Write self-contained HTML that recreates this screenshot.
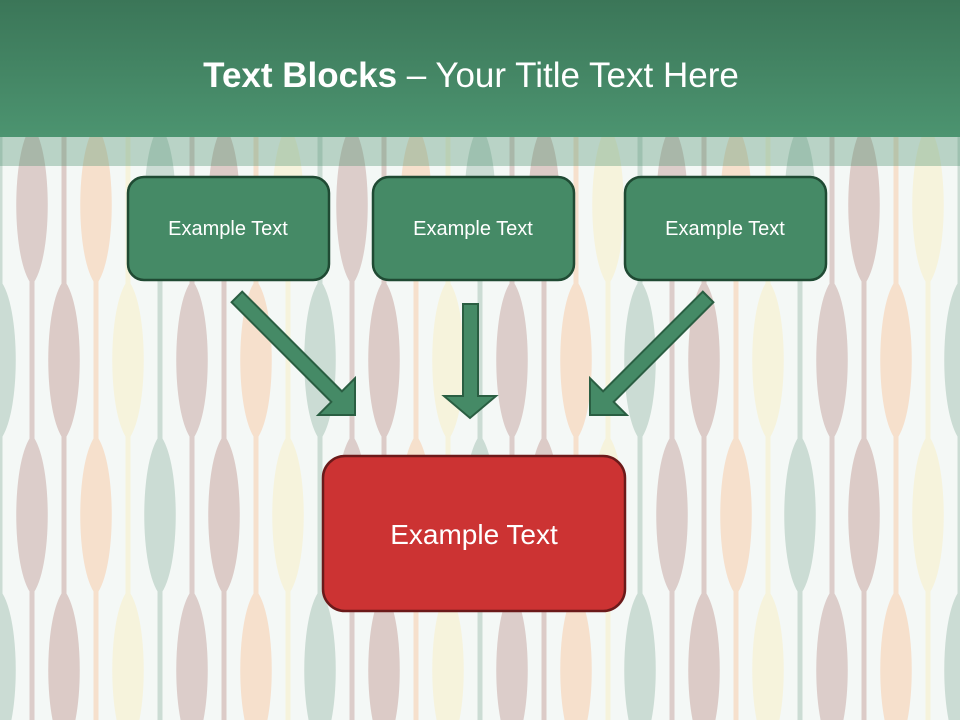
<!DOCTYPE html>
<html><head><meta charset="utf-8"><style>
html,body{margin:0;padding:0;width:960px;height:720px;overflow:hidden;}
body{position:relative;background:#f4f8f6;font-family:"Liberation Sans",sans-serif;}
svg{position:absolute;left:0;top:0;display:block;}
</style></head><body>
<svg id="bg" width="960" height="720"></svg>
<svg width="960" height="720" id="fg">
<defs><linearGradient id="hg" x1="0" y1="0" x2="0" y2="1"><stop offset="0" stop-color="#3b7658"/><stop offset="1" stop-color="#4c9470"/></linearGradient></defs>
<rect x="0" y="0" width="960" height="137" fill="url(#hg)"/>
<rect x="0" y="137" width="960" height="29" fill="#4a8f6c" fill-opacity="0.35"/>
<text x="471" y="87" text-anchor="middle" font-family="Liberation Sans, sans-serif" font-size="35" fill="#fff"><tspan font-weight="bold">Text Blocks</tspan> – Your Title Text Here</text>
<g fill="#458a66" stroke="#1f4a33" stroke-width="2.5">
<rect x="128" y="177" width="201" height="103" rx="16"/>
<rect x="373" y="177" width="201" height="103" rx="16"/>
<rect x="625" y="177" width="201" height="103" rx="16"/>
</g>
<rect x="323" y="456" width="302" height="155" rx="22" fill="#cc3333" stroke="#6b1a1a" stroke-width="2.5"/>
<g font-family="Liberation Sans, sans-serif" font-size="20" fill="#fff" text-anchor="middle">
<text x="228" y="235">Example Text</text>
<text x="473" y="235">Example Text</text>
<text x="725" y="235">Example Text</text>
<text x="474" y="544" font-size="28">Example Text</text>
</g>
<g fill="#458a66" stroke="#2a5e42" stroke-width="2">
<polygon points="463,304 478,304 478,396 496,396 470,418 444,396 463,396"/>
<g transform="rotate(-45 355 415)"><polygon points="347.5,248 362.5,248 362.5,389 381,389 355,415 329,389 347.5,389"/></g>
<g transform="rotate(45 590 415)"><polygon points="582.5,248 597.5,248 597.5,389 616,389 590,415 564,389 582.5,389"/></g>
</g>
</svg>
<script>
var s=document.getElementById('bg'),h='';
var cols=['#dccdca','#dccbc7','#f6e0cc','#f6f3dc','#cbdcd4'];
for(var i=-1;i<30;i++){var x=32*(i+1),c=cols[((i%5)+5)%5];
h+='<rect x="'+(x-2.5)+'" y="0" width="5" height="720" fill="'+c+'"/>';
var y0=(Math.abs(i)%2===0)?515:360;
for(var k=-3;k<4;k++){var cy=y0+310*k;
h+='<path d="M'+x+','+(cy-80)+' C'+(x+21)+','+(cy-55)+' '+(x+21)+','+(cy+55)+' '+x+','+(cy+80)+' C'+(x-21)+','+(cy+55)+' '+(x-21)+','+(cy-55)+' '+x+','+(cy-80)+'Z" fill="'+c+'"/>';}}
s.innerHTML=h;
</script>
</body></html>
